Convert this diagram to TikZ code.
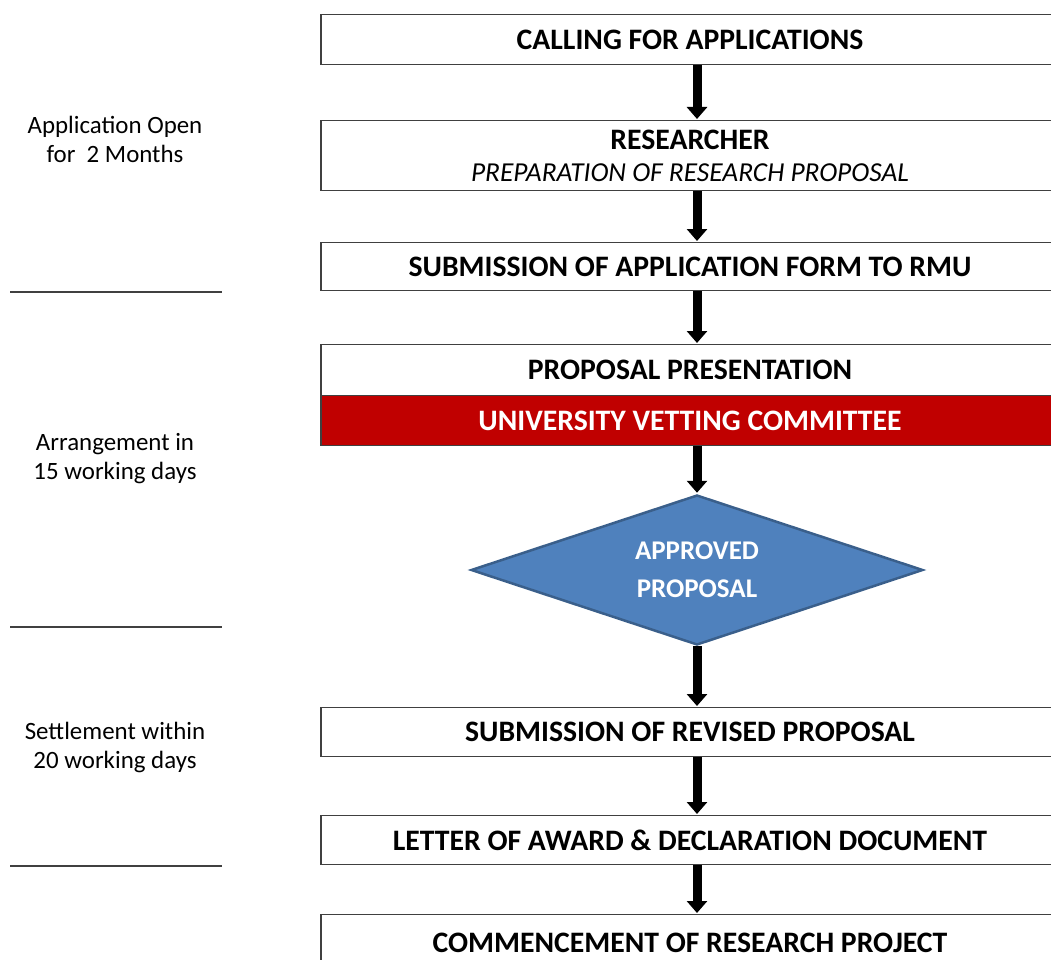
\documentclass[tikz,border=0pt]{standalone}
\usepackage{fontspec}
\setmainfont{Carlito}
\usetikzlibrary{arrows.meta,shapes.geometric}
\definecolor{boxline}{HTML}{404040}
\definecolor{vetred}{HTML}{C00000}
\definecolor{diafill}{HTML}{4F81BD}
\definecolor{diaedge}{HTML}{3A5F8B}
\tikzset{
  stepbox/.style={draw=boxline, line width=1.4pt, fill=white, minimum width=738pt, inner sep=0pt,
    font=\fontsize{29.7}{33}\selectfont\bfseries, align=center, anchor=north},
  redbox/.style={draw=boxline, line width=1.4pt, fill=vetred, text=white, minimum width=738pt, minimum height=50pt,
    inner sep=0pt, font=\fontsize{29.7}{33}\selectfont\bfseries, anchor=north},
  decision/.style={diamond, draw=diaedge, line width=2.5pt, fill=diafill, text=white, aspect=3,
    minimum width=452pt, minimum height=150pt, inner sep=0pt, align=center,
    font=\fontsize{27}{38}\selectfont\bfseries},
  flowarrow/.style={-{Triangle[width=20pt,length=12pt]}, line width=9pt, black, shorten >=1pt},
  sidenote/.style={font=\fontsize{24.9}{29}\selectfont, align=center},
  sepline/.style={draw=boxline, line width=1.3pt}
}
\begin{document}
\begin{tikzpicture}[x=1pt,y=-1pt]
\clip (0,0) rectangle (1051,960);
\fill[white] (0,0) rectangle (1051,960);
% boxes
\node[stepbox, minimum height=50pt] (b1) at (690,14) {CALLING FOR APPLICATIONS};
\node[stepbox, minimum height=70pt] (b2) at (690,120) {RESEARCHER\\[-1pt]{\fontsize{27.4}{33}\selectfont\mdseries\itshape PREPARATION OF RESEARCH PROPOSAL}};
\node[stepbox, minimum height=48pt] (b3) at (690,242) {SUBMISSION OF APPLICATION FORM TO RMU};
\node[stepbox, minimum height=51pt] (b4) at (690,344) {PROPOSAL PRESENTATION};
\node[redbox] (b4r) at (690,395) {UNIVERSITY VETTING COMMITTEE};
\node[decision] (d) at (697,570) {APPROVED\\PROPOSAL};
\node[stepbox, minimum height=49pt] (b5) at (690,707) {SUBMISSION OF REVISED PROPOSAL};
\node[stepbox, minimum height=49pt] (b6) at (690,815) {LETTER OF AWARD \& DECLARATION DOCUMENT};
\node[stepbox, minimum height=56pt] (b7) at (690,914) {COMMENCEMENT OF RESEARCH PROJECT};
% arrows
\draw[flowarrow] ([xshift=7pt]b1.south) -- ([xshift=7pt]b2.north);
\draw[flowarrow] ([xshift=7pt]b2.south) -- ([xshift=7pt]b3.north);
\draw[flowarrow] ([xshift=7pt]b3.south) -- ([xshift=7pt]b4.north);
\draw[flowarrow] ([xshift=7pt]b4r.south) -- (d.north);
\draw[flowarrow] (d.south) -- ([xshift=7pt]b5.north);
\draw[flowarrow] ([xshift=7pt]b5.south) -- ([xshift=7pt]b6.north);
\draw[flowarrow] ([xshift=7pt]b6.south) -- ([xshift=7pt]b7.north);
% side notes
\node[sidenote] (n1) at (115,139) {Application Open\\for\ \ 2 Months};
\node[sidenote] (n2) at (115,459) {Arrangement in\\15 working days};
\node[sidenote] (n3) at (115,747) {Settlement within\\20 working days};
\coordinate (l1a) at (10,292); \coordinate (l1b) at (222,292);
\coordinate (l2a) at (10,627); \coordinate (l2b) at (222,627);
\coordinate (l3a) at (10,866); \coordinate (l3b) at (222,866);
\draw[sepline] (l1a) -- (l1b);
\draw[sepline] (l2a) -- (l2b);
\draw[sepline] (l3a) -- (l3b);
\end{tikzpicture}
\end{document}
